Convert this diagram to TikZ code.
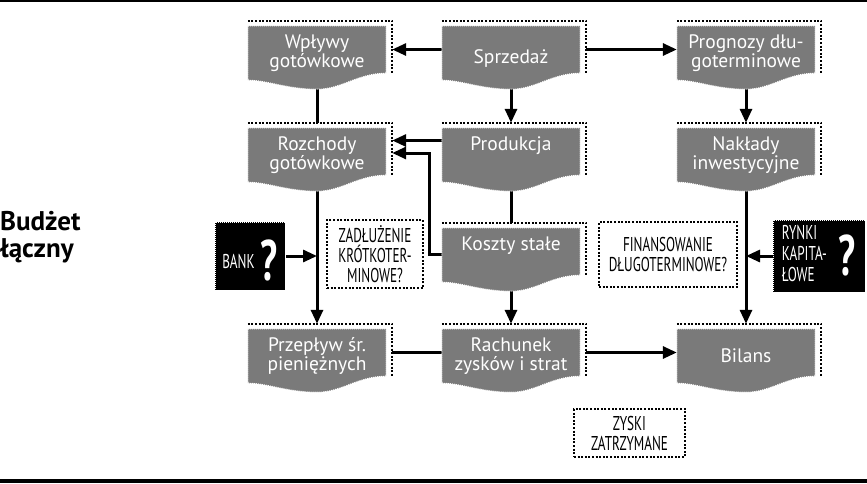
\documentclass[tikz,border=0pt]{standalone}
\usepackage{fontspec}
\setmainfont{PT Sans}
\newfontfamily\condfont[FakeStretch=0.66]{PT Sans}
\usepackage{tikz}
\usetikzlibrary{arrows.meta,positioning,calc,backgrounds}
\definecolor{docgray}{RGB}{122,122,122}
\newcommand{\qmark}{\fontsize{57}{57}\selectfont\bfseries ?}

\begin{document}
\begin{tikzpicture}[x=1pt, y=1pt,
    doc/.style={minimum width=138pt, minimum height=47pt, inner sep=0pt,
                text=white, align=center, text height=41pt, text depth=4.5pt,
                font=\fontsize{19.5}{19.5}\selectfont},
    oneline/.style={text height=#1, text depth=4pt},
    frame/.style={line width=2pt, dash pattern=on 2pt off 1.6pt},
    sheet/.style={fill=docgray, draw=white, line width=1pt,
                  dash pattern=on 1pt off 1pt},
    note/.style={frame, draw, align=center, inner sep=0pt,
                 font=\condfont\fontsize{20}{20}\selectfont},
    stamp/.style={fill=black, draw=white, line width=1pt,
                  dash pattern=on 1pt off 1pt, text=white, inner sep=0pt,
                  font=\condfont\fontsize{20}{21}\selectfont},
    link/.style={line width=3pt},
    arr/.style={link, -{Triangle[length=14pt, width=12pt]}}]
  \useasboundingbox (0,0) rectangle (867,-483);
  \draw[line width=1.5pt] (0,-0.75) -- (867,-0.75);
  \fill (0,-479) rectangle (867,-483);

  \node[anchor=west, align=left, inner sep=0pt,
        font=\bfseries\fontsize{27}{27}\selectfont] (title) at (0,-237) {Budżet\\łączny};

  % documents
  \node[doc] (wpl) at (317,-49.5) {Wpływy\\gotówkowe};
  \node[doc, oneline=31pt] (spr) at (511,-49.5) {Sprzedaż};
  \node[doc] (prog) at (746,-49.5) {Prognozy dłu-\\goterminowe};
  \node[doc] (rozch) at (317,-151.5) {Rozchody\\gotówkowe};
  \node[doc, text height=14pt, text depth=16pt] (prod) at (511,-151.5) {Produkcja};
  \node[doc] (nakl) at (746,-151.5) {Nakłady\\inwestycyjne};
  \node[doc, text height=14pt, text depth=16pt] (koszt) at (511,-251.5) {Koszty stałe};
  \node[doc] (przep) at (317,-352.5) {Przepływ śr.\\pieniężnych};
  \node[doc] (rach) at (511,-352.5) {Rachunek\\zysków i strat};
  \node[doc, oneline=23pt] (bil) at (746,-352.5) {Bilans};

  \node[note, minimum width=96pt, minimum height=68pt] (zadl) at (375,-254)
    {ZADŁUŻENIE\\KRÓTKOTER-\\MINOWE?};
  \node[note, minimum width=138pt, minimum height=65pt] (fin) at (668,-254.5)
    {FINANSOWANIE\\DŁUGOTERMINOWE?};
  \node[note, minimum width=111pt, minimum height=48pt] (zysk) at (629.5,-433)
    {ZYSKI\\ZATRZYMANE};

  \node[stamp, minimum width=70pt, minimum height=68pt, text height=36pt,
        text depth=12pt] (bank) at (250,-256) {BANK\hspace{6pt}\raisebox{-12pt}{\qmark}};
  \node[stamp, minimum width=92pt, minimum height=72pt, text depth=5pt] (rynki) at (819,-256)
    {\begin{tabular}[b]{@{}l@{}}RYNKI\\KAPITA-\\ŁOWE\end{tabular}\hspace{12pt}\raisebox{6pt}{\qmark}};

  \begin{scope}[on background layer]
    \draw[arr] (spr.west) -- ([xshift=6pt]wpl.east);
    \draw[arr] ([xshift=6pt]spr.east) -- (prog.west);
    \draw[arr] (spr.south) -- ([yshift=5pt]prod.north);
    \draw[link] (wpl.south) -- ([yshift=5pt]rozch.north);
    \draw[arr] ([yshift=11pt]prod.west) -- ([shift={(6pt,11pt)}]rozch.east);
    \draw[arr] ([yshift=-3pt]koszt.west) -- ++(-12,0) |- ([shift={(6pt,-1.5pt)}]rozch.east);
    \draw[link] (prod.south) -- ([yshift=5pt]koszt.north);
    \draw[arr] (koszt.south) -- ([yshift=5pt]rach.north);
    \draw[arr] (rozch.south) -- ([yshift=5pt]przep.north);
    \draw[arr] (bank.east) -- (bank.east -| rozch.south);
    \draw[link] ([xshift=6pt]przep.east) -- (rach.west);
    \draw[arr] ([xshift=6pt]rach.east) -- (bil.west);
    \draw[arr] (prog.south) -- ([yshift=5pt]nakl.north);
    \draw[arr] (nakl.south) -- ([yshift=5pt]bil.north);
    \draw[arr] (rynki.west) -- (rynki.west -| nakl.south);
    % grey sheet with wavy bottom and dotted edge behind it
    \foreach \n in {wpl,spr,prog,rozch,prod,nakl,koszt,przep,rach,bil}{
      \draw[frame] ([yshift=5pt]\n.north west) -- ([shift={(6pt,5pt)}]\n.north east)
        -- ([xshift=6pt]\n.south east);
      \filldraw[sheet] (\n.north west) -- (\n.north east) -- (\n.south east)
        .. controls ($(\n.south east)+(-29,0)$) and ($(\n.south)+(25,-16)$) .. ($(\n.south)+(0,-16)$)
        .. controls ($(\n.south)+(-30,-16)$) and ($(\n.south west)+(20,-7)$) .. ($(\n.south west)+(0,-7)$)
        -- cycle;
    }
  \end{scope}
\end{tikzpicture}
\end{document}
